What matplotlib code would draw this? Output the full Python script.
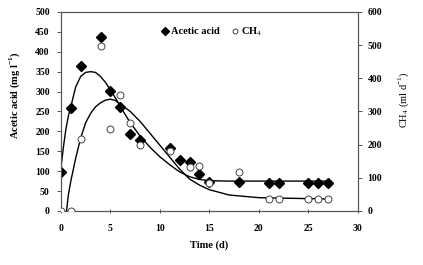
import numpy as np
import matplotlib
matplotlib.use('Agg')
import matplotlib.pyplot as plt

plt.rcParams['font.family'] = ['Liberation Serif', 'DejaVu Serif']
plt.rcParams['mathtext.fontset'] = 'custom'
plt.rcParams['mathtext.rm'] = 'Liberation Serif'
plt.rcParams['mathtext.bf'] = 'Liberation Serif:bold'

# measured acetic acid (mg/l)
acid_day = [0, 1, 2, 4, 5, 6, 7, 8, 11, 12, 13, 14, 15, 18, 21, 22, 25, 26, 27]
acid_val = [97, 258, 364, 436, 302, 260, 193, 177, 158, 127, 122, 93, 73, 73, 70, 70, 70, 70, 70]

# measured methane (ml/d)
ch4_day = [0, 1, 2, 4, 5, 6, 7, 8, 11, 13, 14, 15, 18, 21, 22, 25, 26, 27]
ch4_val = [0, 0, 216, 498, 248, 350, 264, 198, 182, 133, 135, 84, 118, 36, 36, 36, 36, 36]

# fitted curves
acid_fit_day = [0, 0.25, 0.5, 0.75, 1, 1.5, 2, 2.5, 3, 3.5, 4, 4.5, 5, 5.6, 6, 7, 8, 9, 10,
                11, 12, 13, 14, 15, 17, 20, 27]
acid_fit_val = [108, 160, 205, 238, 262, 312, 338, 348, 350, 348, 338, 323, 304, 280, 262,
                222, 188, 160, 136, 116, 98, 86, 79, 76, 75, 75, 75]

ch4_fit_day = [0.57, 0.75, 1, 1.5, 2, 2.5, 3, 3.5, 4, 4.5, 5, 5.5, 6, 7, 8, 9, 10, 11, 12,
               13, 14, 15, 17, 20, 27]
ch4_fit_val = [0, 48, 90, 160, 220, 266, 294, 314, 326, 334, 337, 333, 322, 300, 270, 234,
               198, 162, 126, 96, 78, 64, 48, 40, 36]

fig = plt.figure(figsize=(4.23, 2.65), dpi=100)
ax = fig.add_axes([0.144, 0.204, 0.702, 0.751])
ax2 = ax.twinx()

ax.plot(acid_fit_day, acid_fit_val, color='black', lw=1.0, zorder=2)
ax2.plot(ch4_fit_day, ch4_fit_val, color='black', lw=1.0, zorder=2)

ax.plot(acid_day, acid_val, linestyle='none', marker='D', ms=5.5, color='black',
        label='Acetic acid', zorder=3)
ax2.plot(ch4_day, ch4_val, linestyle='none', marker='o', ms=5, mfc='white',
         mec='#444444', mew=0.7, label='CH$_4$', zorder=3)

ax.set_xlim(0, 30)
ax.set_ylim(0, 500)
ax2.set_ylim(0, 600)
ax.set_xticks(np.arange(0, 31, 5))
ax.set_yticks(np.arange(0, 501, 50))
ax2.set_yticks(np.arange(0, 601, 100))

for a in (ax, ax2):
    for s in a.spines.values():
        s.set_color('#555555')
        s.set_linewidth(0.8)
ax.tick_params(axis='both', labelsize=7, length=3, width=0.7, color='#555555')
ax.tick_params(axis='x', direction='inout', pad=8)
ax.tick_params(axis='y', pad=5)
ax2.tick_params(axis='y', labelsize=7, length=3, width=0.7, color='#555555', pad=4)
for lab in ax.get_xticklabels() + ax.get_yticklabels() + ax2.get_yticklabels():
    lab.set_fontweight('bold')

ax.set_xlabel('Time (d)', fontsize=7.5, fontweight='bold', labelpad=5)
ax.set_ylabel(r'Acetic acid (mg l$^{\mathbf{-1}}$)', fontsize=7.5, fontweight='bold')
ax.yaxis.set_label_coords(-0.13, 0.58)
ax2.set_ylabel(r'CH$_4$ (ml d$^{-1}$)', fontsize=7.5)
ax2.yaxis.set_label_coords(1.13, 0.56)

h1, l1 = ax.get_legend_handles_labels()
h2, l2 = ax2.get_legend_handles_labels()
leg = ax.legend(h1 + h2, l1 + l2, loc='upper left', bbox_to_anchor=(0.3, 0.98), ncol=2,
                frameon=False, handletextpad=0.1, columnspacing=1.0, handlelength=1,
                markerscale=0.7, prop={'size': 7.5, 'weight': 'bold'})

fig.savefig('out.png', dpi=100)
